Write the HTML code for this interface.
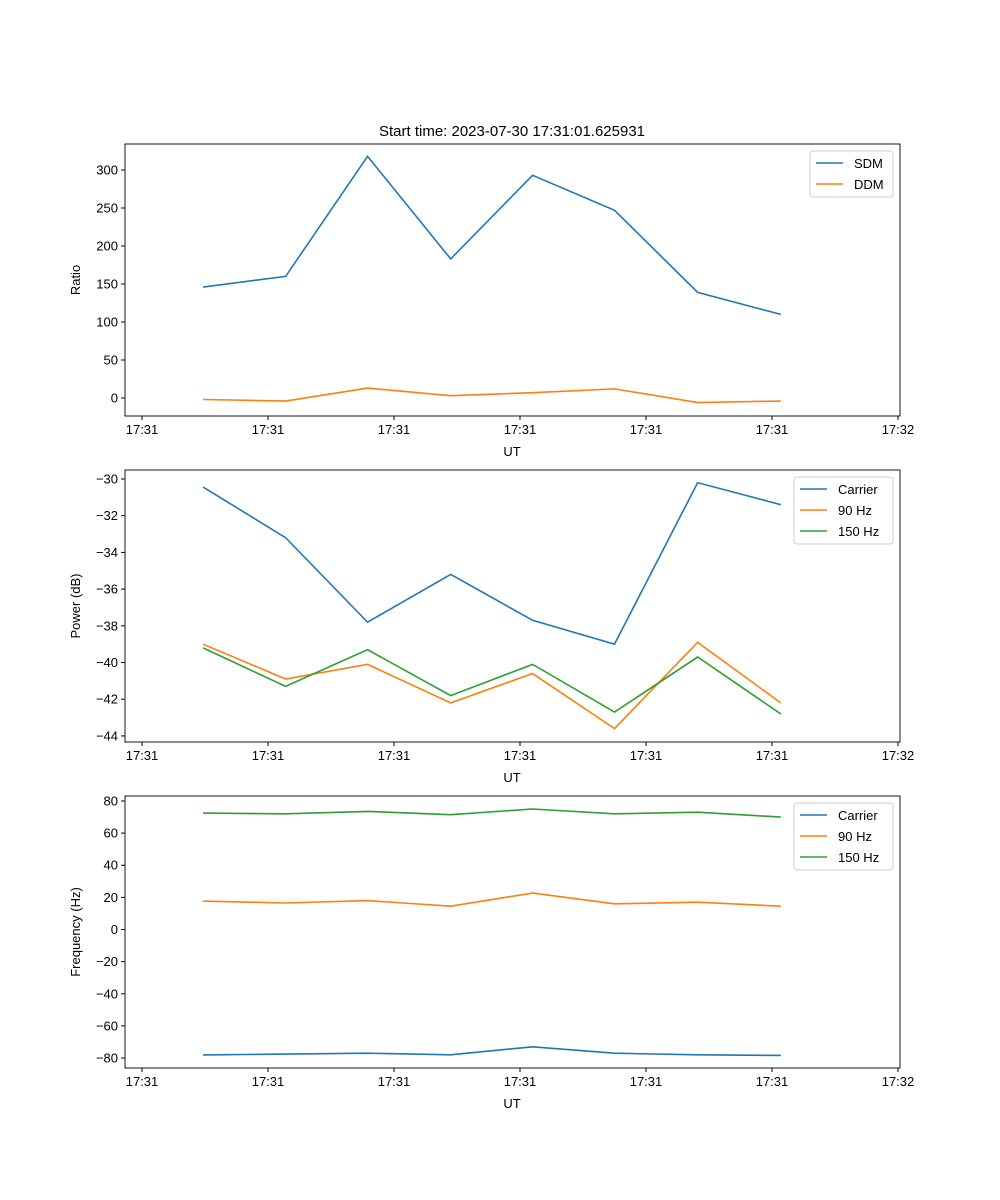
<!DOCTYPE html>
<html><head><meta charset="utf-8"><style>
body{margin:0;background:#fff}
svg{display:block;font-family:"Liberation Sans","DejaVu Sans",sans-serif}
</style></head><body>
<svg id="fig" width="1000" height="1200"></svg>
<script>
const times=[4.85,11.4,17.9,24.5,31.0,37.5,44.1,50.7];
const xTicks=[0,10,20,30,40,50,60];
const xTickLabels=["17:31","17:31","17:31","17:31","17:31","17:31","17:32"];
const sdm=[146,160,318,183,293,247,139,110];
const ddm=[-2,-4,13,3,7,12,-6,-4];
const pCarrier=[-30.44,-33.2,-37.8,-35.2,-37.7,-39.0,-30.2,-31.4];
const p90=[-39.0,-40.9,-40.1,-42.2,-40.6,-43.6,-38.9,-42.2];
const p150=[-39.2,-41.3,-39.3,-41.8,-40.1,-42.7,-39.7,-42.8];
const fCarrier=[-78.1,-77.5,-77,-78,-73,-77,-78,-78.4];
const f90=[17.7,16.5,18,14.5,22.7,16,17,14.5];
const f150=[72.5,72,73.5,71.5,75,72,73,70];
const ticks1=[0,50,100,150,200,250,300];
const ticks2=[-44,-42,-40,-38,-36,-34,-32,-30];
const ticks3=[-80,-60,-40,-20,0,20,40,60,80];
const C=["#1f77b4","#ff7f0e","#2ca02c"];
const NS="http://www.w3.org/2000/svg";
const svg=document.getElementById('fig');
function el(t,a,p){const e=document.createElementNS(NS,t);for(const k in a)e.setAttribute(k,a[k]);(p||svg).appendChild(e);return e;}
const X0=125,X1=900,xmin=-1.35,xmax=60.16;
const sx=v=>X0+(v-xmin)/(xmax-xmin)*(X1-X0);
function fmt(t){return t<0?'\u2212'+Math.abs(t):String(t);}
function panel(top,ymin,ymax,ticks,ylabel,series,names,legW,name){
  const bot=top+272;
  const sy=v=>bot-(v-ymin)/(ymax-ymin)*272;
  const g=el('g',{});
  
  
  xTicks.forEach((t,i)=>{const x=sx(t);el('line',{x1:x,x2:x,y1:bot,y2:bot+4,stroke:'#000'},g);
    const tx=el('text',{x:x,y:bot+18,'text-anchor':'middle','font-size':13},g);tx.textContent=xTickLabels[i];
    });
  ticks.forEach(t=>{const y=sy(t);el('line',{x1:X0-4,x2:X0,y1:y,y2:y,stroke:'#000'},g);
    const tx=el('text',{x:X0-7,y:y+4.5,'text-anchor':'end','font-size':13},g);tx.textContent=fmt(t);
    });
  const xl=el('text',{x:512,y:bot+40,'text-anchor':'middle','font-size':13},g);xl.textContent='UT';
  
  const yl=el('text',{x:0,y:0,'text-anchor':'middle','font-size':13,transform:`translate(${X0-45},${top+136}) rotate(-90)`},g);yl.textContent=ylabel;
  
  series.forEach((s,i)=>{const pl=el('polyline',{points:s.map((v,j)=>sx(times[j])+','+sy(v)).join(' '),fill:'none',stroke:C[i],'stroke-width':1.6},g);
    });
  el('rect',{x:X0,y:top,width:X1-X0,height:272,fill:'none',stroke:'#000','stroke-width':0.9},g);
  const lx=893-legW,ly=top+7;
  const lr=el('rect',{x:lx,y:ly,width:legW,height:names.length*21+4,rx:3,fill:'#fff',stroke:'#ccc'},g);
  
  names.forEach((n,i)=>{const y=ly+12+i*21;el('line',{x1:lx+6,x2:lx+33,y1:y,y2:y,stroke:C[i],'stroke-width':1.6},g);
    const t=el('text',{x:lx+44,y:y+5,'font-size':13},g);t.textContent=n;
    });
}
const tt=el('text',{x:512,y:136,'text-anchor':'middle','font-size':15},svg);tt.textContent='Start time: 2023-07-30 17:31:01.625931';

panel(144,-23.7,334.2,ticks1,'Ratio',[sdm,ddm],['SDM','DDM'],83,'ratio-panel');
panel(470,-44.33,-29.51,ticks2,'Power (dB)',[pCarrier,p90,p150],['Carrier','90 Hz','150 Hz'],99,'power-panel');
panel(796,-86.2,83.1,ticks3,'Frequency (Hz)',[fCarrier,f90,f150],['Carrier','90 Hz','150 Hz'],99,'frequency-panel');
</script>
</body></html>
